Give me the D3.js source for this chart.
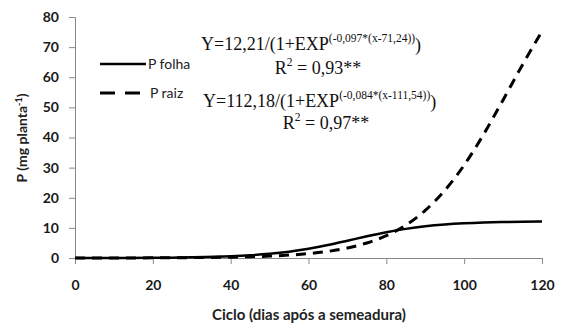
<!DOCTYPE html>
<html>
<head>
<meta charset="utf-8">
<script src="https://cdn.jsdelivr.net/npm/d3@7"></script>
<style>
  html, body { margin: 0; padding: 0; background: #fff; }
  svg { display: block; }
  .tick text { font-family: Lato, "Open Sans", sans-serif; font-weight: bold; font-size: 14px; fill: #1a1a1a; }
</style>
</head>
<body>
<svg id="chart" width="561" height="324"></svg>
<script>
// Days after sowing at which the fitted curves are sampled
const days = [0, 10, 20, 30, 40, 45, 50, 55, 60, 65, 70, 75, 80, 85, 90, 95, 100, 105, 110, 115, 120];
// P in leaves (mg per plant)
const pFolha = [0.01, 0.03, 0.08, 0.22, 0.56, 0.89, 1.38, 2.09, 3.07, 4.31, 5.74, 7.21, 8.56, 9.67, 10.51, 11.10, 11.50, 11.77, 11.93, 12.04, 12.10];
// P in roots (mg per plant)
const pRaiz = [0.01, 0.02, 0.05, 0.12, 0.27, 0.42, 0.63, 0.96, 1.46, 2.20, 3.32, 4.98, 7.41, 10.90, 15.80, 22.39, 30.85, 41.06, 52.47, 64.18, 75.24];
const xTicks = [0, 20, 40, 60, 80, 100, 120];
const yTicks = [0, 10, 20, 30, 40, 50, 60, 70, 80];

const svg = d3.select("#chart");

const x = d3.scaleLinear().domain([0, 120]).range([75, 542]);
const y = d3.scaleLinear().domain([0, 80]).range([258, 17]);

const axisColor = "#888";

// Y axis
const gy = svg.append("g").attr("transform", `translate(${x(0)},0)`)
  .call(d3.axisLeft(y).tickValues(yTicks).tickSize(6).tickPadding(10));
gy.select(".domain").attr("stroke", axisColor);
gy.selectAll(".tick line").attr("stroke", axisColor);

// X axis
const gx = svg.append("g").attr("transform", `translate(0,${y(0)})`)
  .call(d3.axisBottom(x).tickValues(xTicks).tickSize(6).tickPadding(16));
gx.select(".domain").attr("stroke", axisColor);
gx.selectAll(".tick line").attr("stroke", axisColor);

// Curves
const line = d3.line().x((d, i) => x(days[i])).y(d => y(d)).curve(d3.curveMonotoneX);

svg.append("path").datum(pRaiz).attr("d", line)
  .attr("fill", "none").attr("stroke", "#000").attr("stroke-width", 3)
  .attr("stroke-dasharray", "10,7");

svg.append("path").datum(pFolha).attr("d", line)
  .attr("fill", "none").attr("stroke", "#000").attr("stroke-width", 2.5);

// Legend
const legFont = "Lato, 'Open Sans', sans-serif";
svg.append("line").attr("x1", 100).attr("x2", 146).attr("y1", 64).attr("y2", 64)
  .attr("stroke", "#000").attr("stroke-width", 2.5);
svg.append("text").attr("x", 148).attr("y", 68.5).text("P folha")
  .attr("font-family", legFont).attr("font-size", 14).attr("fill", "#222");
svg.append("line").attr("x1", 100).attr("x2", 146).attr("y1", 93).attr("y2", 93)
  .attr("stroke", "#000").attr("stroke-width", 3).attr("stroke-dasharray", "15,10");
svg.append("text").attr("x", 150).attr("y", 97.5).text("P raiz")
  .attr("font-family", legFont).attr("font-size", 14).attr("fill", "#222");

// Fitted equations
const serif = "'Liberation Serif', 'DejaVu Serif', serif";
function equation(xPos, yPos, main, sup) {
  const t = svg.append("text").attr("x", xPos).attr("y", yPos)
    .attr("font-family", serif).attr("font-size", 18).attr("fill", "#111");
  t.append("tspan").text(main);
  t.append("tspan").attr("font-size", 11.5).attr("dy", -8).text(sup);
  t.append("tspan").attr("dy", 9).text(")");
}
function rsq(cx, yPos, val) {
  const t = svg.append("text").attr("x", cx).attr("y", yPos).attr("text-anchor", "middle")
    .attr("font-family", serif).attr("font-size", 18).attr("fill", "#111");
  t.append("tspan").text("R");
  t.append("tspan").attr("font-size", 11.5).attr("dy", -8).text("2");
  t.append("tspan").attr("dy", 8).text(" = " + val);
}
equation(201, 50, "Y=12,21/(1+EXP", "(-0,097*(x-71,24))");
rsq(318, 74, "0,93**");
equation(203, 107, "Y=112,18/(1+EXP", "(-0,084*(x-111,54))");
rsq(326, 129, "0,97**");

// Axis titles
const title = "Lato, 'Open Sans', sans-serif";
svg.append("text").attr("x", 309).attr("y", 320).attr("text-anchor", "middle")
  .attr("font-family", title).attr("font-weight", "bold").attr("font-size", 15).attr("fill", "#222")
  .text("Ciclo (dias após a semeadura)");

const yt = svg.append("text").attr("transform", "translate(27,138) rotate(-90)")
  .attr("text-anchor", "middle")
  .attr("font-family", title).attr("font-weight", "bold").attr("font-size", 14).attr("fill", "#222");
yt.append("tspan").text("P (mg planta");
yt.append("tspan").attr("font-size", 9).attr("dy", -5).text("-1");
yt.append("tspan").attr("dy", 5).text(")");
</script>
</body>
</html>
